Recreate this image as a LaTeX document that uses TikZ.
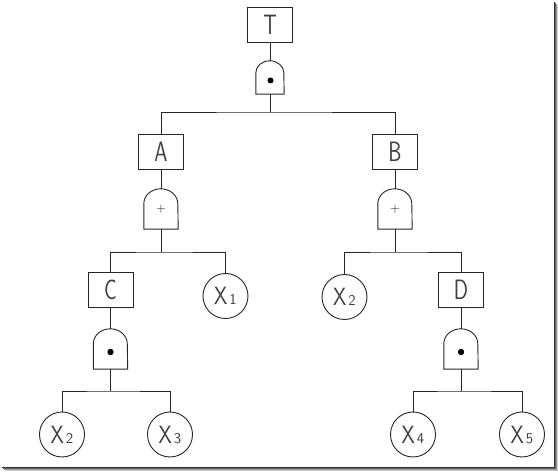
\documentclass[tikz,border=0pt]{standalone}
\usepackage{graphicx}
\usetikzlibrary{calc}
\newcommand{\sq}[1]{\scalebox{0.75}[1]{#1}}
\newcommand{\xl}[1]{\scalebox{0.85}[1]{X}\hspace{2pt}{\fontsize{15}{15}\selectfont #1}}
\newcommand{\gateoutline}[3]{\draw[ln] (#1.south west) -- ([yshift=-#3]#1.north west) arc[start angle=180,end angle=0,x radius=#2,y radius=#3] -- (#1.south east) -- cycle;}
\begin{document}
\begin{tikzpicture}[x=1pt,y=-1pt,
  ln/.style={draw=black!85, line width=0.9pt},
  evbox/.style={ln, rectangle, minimum width=45pt, minimum height=35pt, inner sep=0pt, text=black!75, font=\sffamily\fontsize{28}{28}\selectfont},
  basic/.style={ln, circle, minimum size=45pt, inner sep=0pt, text=black!75, font=\sffamily\fontsize{25}{25}\selectfont},
  gate/.style={inner sep=0pt, minimum width=34pt, minimum height=40pt, text=black!90, font=\sffamily\fontsize{13}{13}\selectfont},
]
\useasboundingbox (0,0) rectangle (558,473);
\fill[white] (0,0) rectangle (558,473);
% frame shadow
\draw[black!80, line width=1pt] (554.5,2) -- (554.5,467.5) -- (2,467.5);
\draw[black!60, line width=1pt] (555.5,3) -- (555.5,468.5) -- (3,468.5);
\draw[black!40, line width=1pt] (556.5,4) -- (556.5,469.5) -- (4,469.5);
\draw[black!20, line width=1pt] (557.5,5) -- (557.5,470.5) -- (5,470.5);

% nodes
\node[evbox] (T) at (270,25) {\sq{T}};
\node[gate, minimum width=28pt, minimum height=33pt] (gT) at (270,77.5) {};
\node[evbox] (A) at (161,151.5) {\sq{A}};
\node[evbox] (B) at (395,151.5) {\sq{B}};
\node[gate] (gA) at (161,209) {\raisebox{-4pt}{+}};
\node[gate] (gB) at (395,209) {\raisebox{-4pt}{+}};
\node[evbox] (C) at (110.5,290) {\sq{C}};
\node[basic] (X1) at (225.5,296) {\xl{1}};
\node[basic] (X2r) at (344.5,297) {\xl{2}};
\node[evbox] (D) at (461,290) {\sq{D}};
\node[gate] (gC) at (110.5,349) {};
\node[gate] (gD) at (461,349) {};
\node[basic] (X2) at (62,434.5) {\xl{2}};
\node[basic] (X3) at (170,434.5) {\xl{3}};
\node[basic] (X4) at (413,434.5) {\xl{4}};
\node[basic] (X5) at (522,434.5) {\xl{5}};

% gate outlines and symbols
\gateoutline{gT}{14pt}{12pt}
\gateoutline{gA}{17pt}{15pt}
\gateoutline{gB}{17pt}{15pt}
\gateoutline{gC}{17pt}{15pt}
\gateoutline{gD}{17pt}{15pt}
\fill[black] ($(gT)+(0.5,3)$) circle[radius=3pt];
\fill[black] ($(gC)+(0,3)$) circle[radius=3.2pt];
\fill[black] ($(gD)+(0,3)$) circle[radius=3.2pt];

% bar points
\coordinate (bT) at (270,112);
\coordinate (bA) at (161,252);
\coordinate (bB) at (395,252);
\coordinate (bC) at (110.5,391);
\coordinate (bD) at (461,391);

% connectors
\draw[ln] (T.south) -- (gT.north);
\draw[ln] (gT.south) -- (bT);
\draw[ln] (A.north) |- (bT) -| (B.north);
\draw[ln] (A.south) -- (gA.north);
\draw[ln] (B.south) -- (gB.north);
\draw[ln] (gA.south) -- (bA);
\draw[ln] (gB.south) -- (bB);
\draw[ln] (C.north) |- (bA) -| (X1.north);
\draw[ln] (X2r.north) |- (bB) -| (D.north);
\draw[ln] (C.south) -- (gC.north);
\draw[ln] (D.south) -- (gD.north);
\draw[ln] (gC.south) -- (bC);
\draw[ln] (gD.south) -- (bD);
\draw[ln] (X2.north) |- (bC) -| (X3.north);
\draw[ln] (X4.north) |- (bD) -| (X5.north);
\end{tikzpicture}
\end{document}
